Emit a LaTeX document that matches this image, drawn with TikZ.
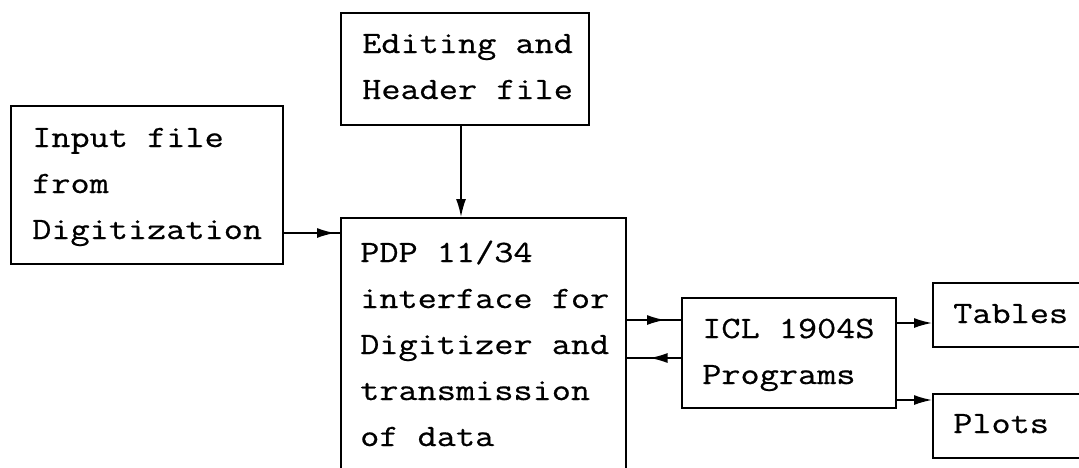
\documentclass[tikz,border=0pt]{standalone}
\usepackage{fontspec}
\setmonofont[FakeStretch=1.2,FakeBold=0.6]{Latin Modern Mono}
\usetikzlibrary{arrows.meta,decorations.markings}
\tikzset{
  boxnode/.style={draw, line width=1.6pt, inner sep=0pt, anchor=north west},
  txt/.style={anchor=base west, inner sep=0pt, font=\fontsize{31}{46}\selectfont\ttfamily},
  conn/.style={line width=1.6pt},
  tipped/.style={conn, -{Latex[length=18pt,width=10pt]}},
  midarrow/.style={conn, postaction={decorate}, decoration={markings,
      mark=at position #1 with {\arrow{Latex[length=18pt,width=10pt]}}}}
}
\begin{document}
\begin{tikzpicture}[x=1pt,y=-1pt]
\clip (0,0) rectangle (1079,467);
% boxes
\node[boxnode, minimum width=272, minimum height=158] (inbox) at (10,105) {};
\node[boxnode, minimum width=248, minimum height=112] (edbox) at (340,12) {};
\node[boxnode, minimum width=285, minimum height=300] (pdpbox) at (340,217) {};
\node[boxnode, minimum width=214, minimum height=110] (iclbox) at (681,297) {};
\node[boxnode, minimum width=200, minimum height=64] (tabbox) at (932,282) {};
\node[boxnode, minimum width=200, minimum height=64] (plotbox) at (932,393) {};
% texts
\node[txt] (intext) at (32,147) {\vtop{\hbox{Input file}\hbox{from}\hbox{Digitization}}};
\node[txt] (edtext) at (362,53) {\vtop{\hbox{Editing and}\hbox{Header file}}};
\node[txt] (pdptext) at (360,262) {\vtop{\hbox{PDP 11/34}\hbox{interface for}\hbox{Digitizer and}\hbox{transmission}\hbox{of data}}};
\node[txt] (icltext) at (702,338) {\vtop{\hbox{ICL 1904S}\hbox{Programs}}};
\node[txt] (tabtext) at (953,323) {Tables};
\node[txt] (plottext) at (953,433) {Plots};
% connector levels
\coordinate (yin) at (0,233);
\coordinate (xdown) at (461,0);
\coordinate (yto) at (0,320);
\coordinate (yback) at (0,358);
\coordinate (ytab) at (0,323);
\coordinate (yplot) at (0,400);
% connectors
\draw[midarrow=-5pt] (inbox.east |- yin) -- (pdpbox.west |- yin);
\draw[tipped] (xdown |- edbox.south) -- (xdown |- pdpbox.north);
\draw[midarrow=-16pt] (pdpbox.east |- yto) -- (iclbox.west |- yto);
\draw[midarrow=-23pt] (iclbox.west |- yback) -- (pdpbox.east |- yback);
\draw[tipped] (iclbox.east |- ytab) -- (tabbox.west |- ytab);
\draw[tipped] (iclbox.east |- yplot) -- (plotbox.west |- yplot);
\end{tikzpicture}
\end{document}
